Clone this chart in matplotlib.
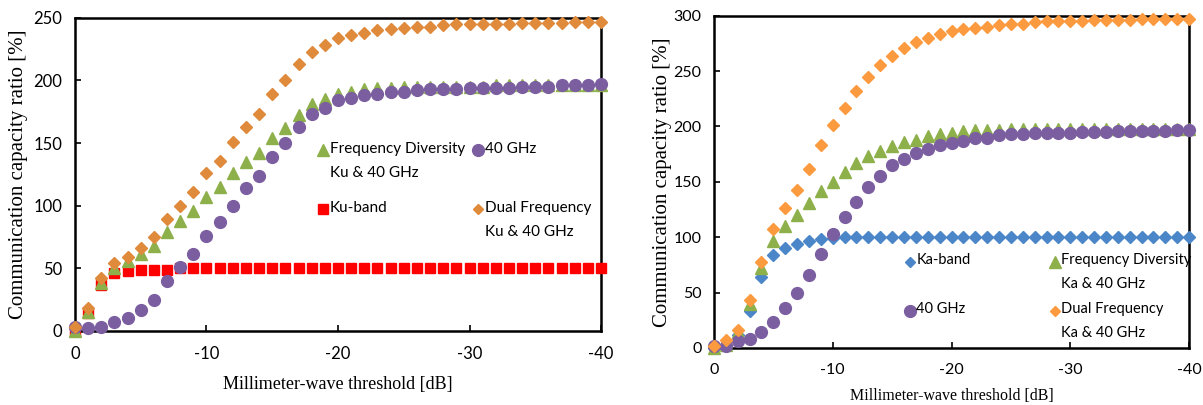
import numpy as np
import matplotlib
matplotlib.use("Agg")
import matplotlib.pyplot as plt

plt.rcParams["axes.unicode_minus"] = False

# threshold [dB], 0 .. -40
thr = list(range(0, -41, -1))

# left panel: Ku-band combinations
ku_band = [0, 14, 37, 46, 48, 49, 49, 49, 50, 50] + [50] * 31
ku_div = [0, 15, 38, 50, 56, 61, 68, 79, 88, 96, 107, 115, 126, 135, 142, 154,
          162, 172, 181, 185, 189, 191, 193, 194, 194, 195, 195, 195, 195, 195,
          195, 195, 196, 196, 196, 196, 196, 196, 196, 196, 196]
ku_40 = [3, 2, 3, 7, 10, 17, 25, 40, 51, 61, 76, 87, 100, 114, 124, 139, 150,
         163, 173, 178, 184, 186, 188, 189, 191, 191, 192, 193, 193, 193, 194,
         194, 194, 194, 195, 195, 195, 196, 196, 196, 197]
ku_dual = [3, 18, 42, 54, 59, 66, 75, 89, 100, 111, 126, 136, 151, 163, 173,
           189, 200, 213, 223, 228, 234, 236, 238, 240, 241, 242, 243, 243,
           244, 245, 245, 245, 245, 245, 246, 246, 246, 246, 247, 247, 247]

# right panel: Ka-band combinations
ka_band = [0, 2, 12, 33, 64, 84, 90, 94, 97, 98, 99, 100] + [100] * 29
ka_div = [0, 3, 14, 40, 72, 97, 110, 120, 131, 142, 150, 159, 167, 173, 178,
          182, 186, 188, 191, 193, 194, 196, 197, 197, 197, 198, 198, 198, 198,
          198, 198, 198, 198, 198, 198, 198, 198, 198, 198, 198, 198]
ka_40 = [1.5, 1.5, 6, 8, 14, 23, 36, 50, 66, 85, 103, 118, 132, 145, 155, 165,
         171, 176, 180, 183, 185, 187, 190, 190, 192, 193, 193, 194, 194, 194,
         194, 195, 195, 195, 196, 196, 196, 196, 196, 197, 197]
ka_dual = [1.5, 7, 16.5, 43, 78, 107, 126, 143, 162, 183, 201, 217, 232, 245,
           256, 264, 271, 276, 280, 284, 286, 288, 289, 290, 292, 293, 293,
           294, 295, 295, 295, 295, 296, 296, 296, 296, 297, 297, 297, 297, 297]

RED = "#ff0000"
GREEN = "#8db04b"
PURPLE = "#7b5ea0"
ORANGE_L = "#e08a3c"
ORANGE_R = "#fb9a3e"
BLUE = "#4a86c8"

SANS = ["Lato", "DejaVu Sans"]
SERIF = ["Liberation Serif", "DejaVu Serif"]

fig = plt.figure(figsize=(12.03, 4.05), dpi=100)
ax1 = fig.add_axes([0.0623, 0.183, 0.4373, 0.773])
ax2 = fig.add_axes([0.5935, 0.141, 0.3949, 0.820])


def style_axes(ax, ymax, tick_fs, xlab_fs, xlab_pad, ylab_pad):
    ax.set_xlim(0, -40)
    ax.set_ylim(0, ymax)
    ax.set_xticks([0, -10, -20, -30, -40])
    ax.set_yticks(range(0, ymax + 1, 50))
    ax.tick_params(direction="in", length=4, width=1.2, labelsize=tick_fs)
    ax.tick_params(axis="x", pad=11)
    ax.tick_params(axis="y", pad=9)
    for lab in ax.get_xticklabels() + ax.get_yticklabels():
        lab.set_family(SANS)
    for sp in ax.spines.values():
        sp.set_linewidth(1.8)
        sp.set_color("black")
    ax.set_ylabel("Communication capacity ratio [%]", family=SERIF, fontsize=15,
                  labelpad=ylab_pad)
    ax.set_xlabel("Millimeter-wave threshold [dB]", family=SERIF, fontsize=xlab_fs,
                  labelpad=xlab_pad)


def legend_item(ax, x, y, marker, color, ms, text, fs):
    ax.plot([x], [y], marker=marker, color=color, markersize=ms, linestyle="none",
            transform=ax.transAxes, clip_on=False)
    ax.text(x + 0.013, y + 0.026, text, transform=ax.transAxes, va="top", ha="left",
            family=SANS, fontsize=fs, linespacing=1.9)


# left panel
ax1.plot(thr, ku_band, "s", color=RED, markersize=7.5, clip_on=False, zorder=3)
ax1.plot(thr, ku_div, "^", color=GREEN, markersize=9, clip_on=False, zorder=4)
ax1.plot(thr, ku_40, "o", color=PURPLE, markersize=8.5, clip_on=False, zorder=5)
ax1.plot(thr, ku_dual, "D", color=ORANGE_L, markersize=6.3, clip_on=False, zorder=6)
style_axes(ax1, 250, 12, 13, 10, 4)

legend_item(ax1, 0.471, 0.578, "^", GREEN, 8.5, "Frequency Diversity\nKu & 40 GHz", 11)
legend_item(ax1, 0.766, 0.578, "o", PURPLE, 8.5, "40 GHz", 11)
legend_item(ax1, 0.471, 0.390, "s", RED, 7, "Ku-band", 11)
legend_item(ax1, 0.766, 0.390, "D", ORANGE_L, 5.5, "Dual Frequency\nKu & 40 GHz", 11)

# right panel
ax2.plot(thr, ka_band, "D", color=BLUE, markersize=6.3, clip_on=False, zorder=3)
ax2.plot(thr, ka_div, "^", color=GREEN, markersize=9, clip_on=False, zorder=4)
ax2.plot(thr, ka_40, "o", color=PURPLE, markersize=8.5, clip_on=False, zorder=5)
ax2.plot(thr, ka_dual, "D", color=ORANGE_R, markersize=6.3, clip_on=False, zorder=6)
style_axes(ax2, 300, 11.5, 11.5, 7.5, 1)

legend_item(ax2, 0.413, 0.259, "D", BLUE, 5.5, "Ka-band", 10.5)
legend_item(ax2, 0.718, 0.259, "^", GREEN, 8.5, "Frequency Diversity\nKa & 40 GHz", 10.5)
legend_item(ax2, 0.413, 0.111, "o", PURPLE, 8.5, "40 GHz", 10.5)
legend_item(ax2, 0.718, 0.111, "D", ORANGE_R, 5.5, "Dual Frequency\nKa & 40 GHz", 10.5)

fig.savefig("out.png", dpi=100)
